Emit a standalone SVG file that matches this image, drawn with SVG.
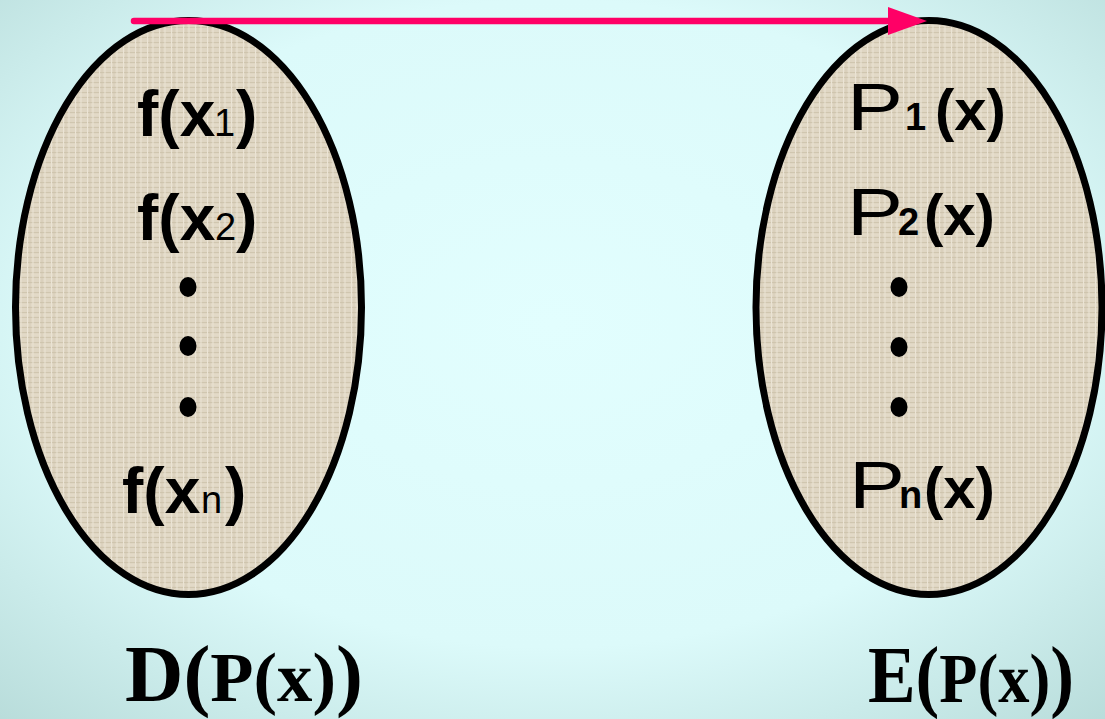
<svg xmlns="http://www.w3.org/2000/svg" width="1105" height="719" viewBox="0 0 1105 719">
  <defs>
    <radialGradient id="bg" cx="50%" cy="45%" r="75%">
      <stop offset="0" stop-color="#E2FEFE"/>
      <stop offset="0.6" stop-color="#DCFAFA"/>
      <stop offset="1" stop-color="#B8DCDA"/>
    </radialGradient>
    <pattern id="linen" width="12" height="10" patternUnits="userSpaceOnUse">
      <rect width="12" height="10" fill="#DFD6C3"/>
      <path d="M0 2.5H12M0 7.5H12" stroke="#D0C6AF" stroke-width="1"/>
      <path d="M3.5 0V10M9 0V10" stroke="#EBE4D5" stroke-width="1"/>
      <path d="M0 5H12" stroke="#E7DFCD" stroke-width="0.8"/>
      <path d="M6 0V10" stroke="#CDC2AB" stroke-width="0.6"/>
    </pattern>
    <marker id="arrowhead" markerUnits="userSpaceOnUse" markerWidth="40" markerHeight="30" refX="0" refY="14" orient="auto">
      <path d="M0 0L39 14L0 28Z" fill="#FF0066"/>
    </marker>
    <style>
      .ell { fill: url(#linen); stroke: #000; stroke-width: 7; }
      .t { font-family: "Liberation Sans", Arial, sans-serif; fill: #000; }
      .b { font-weight: bold; }
      .big { font-size: 64px; }
      .mid { font-size: 58px; }
      .sub { font-size: 38px; }
      .P { font-size: 66px; font-weight: normal; }
      .lab { font-family: "Liberation Serif", "Times New Roman", serif; font-weight: bold; fill: #000; }
      .dot { fill: #000; }
    </style>
  </defs>
  <rect x="0" y="0" width="1105" height="719" fill="url(#bg)"/>

  <g id="setD">
    <ellipse class="ell" cx="188.5" cy="307.5" rx="173" ry="287"/>
    <text class="t" y="136"><tspan class="b big" x="137">f(x</tspan><tspan class="sub" x="214">1</tspan><tspan class="b big" x="236">)</tspan></text>
    <text class="t" y="240"><tspan class="b big" x="137">f(x</tspan><tspan class="sub" x="215">2</tspan><tspan class="b big" x="236">)</tspan></text>
    <ellipse class="dot" cx="188" cy="287" rx="8.5" ry="10"/>
    <ellipse class="dot" cx="188" cy="346" rx="8.5" ry="10"/>
    <ellipse class="dot" cx="188" cy="407" rx="8.5" ry="10"/>
    <text class="t" y="513"><tspan class="b big" x="122">f(x</tspan><tspan class="sub" x="201">n</tspan><tspan class="b big" x="225">)</tspan></text>
  </g>

  <g id="setE">
    <ellipse class="ell" cx="929" cy="307.5" rx="173" ry="287"/>
    <text class="t" y="130"><tspan class="P" x="847" textLength="56" lengthAdjust="spacingAndGlyphs">P</tspan><tspan class="sub b" x="905">1</tspan><tspan class="b mid" x="935">(x)</tspan></text>
    <text class="t" y="235"><tspan class="P" x="847" textLength="56" lengthAdjust="spacingAndGlyphs">P</tspan><tspan class="sub b" x="898">2</tspan><tspan class="b mid" x="924">(x)</tspan></text>
    <ellipse class="dot" cx="899" cy="287" rx="8.5" ry="10"/>
    <ellipse class="dot" cx="899" cy="347" rx="8.5" ry="10"/>
    <ellipse class="dot" cx="899" cy="407" rx="8.5" ry="10"/>
    <text class="t" y="508"><tspan class="P" x="849" textLength="56" lengthAdjust="spacingAndGlyphs">P</tspan><tspan class="sub b" x="899">n</tspan><tspan class="b mid" x="924">(x)</tspan></text>
  </g>

  <g id="labelD">
    <text class="lab" x="125" y="701" textLength="238" lengthAdjust="spacingAndGlyphs"><tspan font-size="80">D</tspan><tspan font-size="80">(</tspan><tspan font-size="70">P(x)</tspan><tspan font-size="80">)</tspan></text>
  </g>
  <g id="labelE">
    <text class="lab" x="868" y="702" textLength="206" lengthAdjust="spacingAndGlyphs"><tspan font-size="80">E</tspan><tspan font-size="80">(</tspan><tspan font-size="70">P(x)</tspan><tspan font-size="80">)</tspan></text>
  </g>

  <g id="connectors">
    <line x1="134" y1="21" x2="888" y2="21" stroke="#FF0066" stroke-width="6.5" stroke-linecap="round" marker-end="url(#arrowhead)"/>
  </g>
</svg>
